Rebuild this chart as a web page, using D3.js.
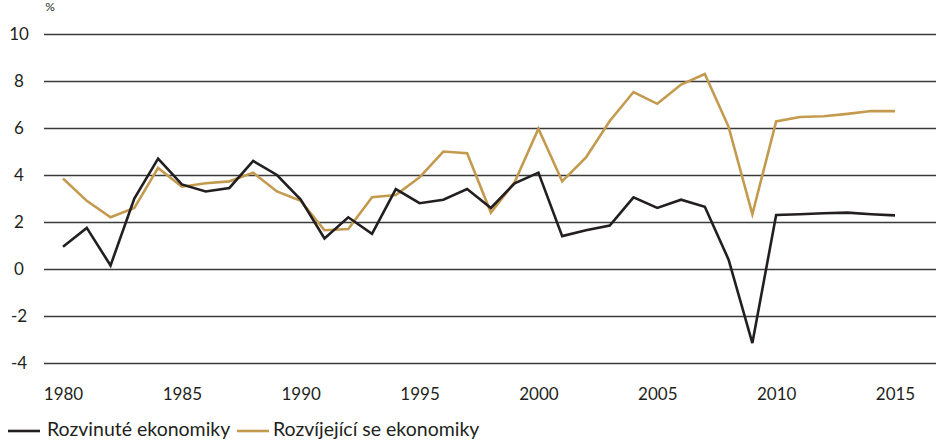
<!DOCTYPE html>
<html>
<head>
<meta charset="utf-8">
<script src="https://cdn.jsdelivr.net/npm/d3@7"></script>
<style>
  body { margin: 0; background: #fff; }
  text { font-family: Lato, "Open Sans", sans-serif; fill: #231f20; }
</style>
</head>
<body>
<script>
var w = 950;
var h = 440;

var years = d3.range(1980, 2016);

var developed = [0.95, 1.75, 0.15, 3.0, 4.7, 3.6, 3.3, 3.45, 4.6, 4.0, 2.95, 1.3,
                 2.2, 1.5, 3.4, 2.8, 2.95, 3.4, 2.6, 3.65, 4.1, 1.4, 1.65, 1.85,
                 3.05, 2.6, 2.95, 2.65, 0.4, -3.15, 2.3, 2.33, 2.37, 2.4, 2.33, 2.28];

var emerging = [3.85, 2.9, 2.2, 2.6, 4.3, 3.5, 3.65, 3.73, 4.1, 3.3, 2.9, 1.65,
                1.7, 3.05, 3.15, 3.9, 5.0, 4.93, 2.4, 3.7, 5.97, 3.73, 4.75, 6.3,
                7.53, 7.03, 7.85, 8.3, 6.05, 2.33, 6.28, 6.47, 6.5, 6.6, 6.72, 6.72];

var yTicks = [-4, -2, 0, 2, 4, 6, 8, 10];
var xTicks = [1980, 1985, 1990, 1995, 2000, 2005, 2010, 2015];

var seriesNames = ["Rozvinuté ekonomiky", "Rozvíjející se ekonomiky"];
var seriesColors = ["#231f20", "#c39a4e"];

var svg = d3.select("body").append("svg")
            .attr("width", w)
            .attr("height", h);

var x = d3.scaleLinear().domain([1980, 2015]).range([63, 895]);
var y = d3.scaleLinear().domain([-4, 10]).range([363, 34]);

// unit label
svg.append("text")
   .attr("x", 50)
   .attr("y", 11)
   .attr("text-anchor", "middle")
   .style("font-size", "12px")
   .text("%");

// horizontal gridlines + y labels
var yAxis = d3.axisLeft(y)
              .tickValues(yTicks)
              .tickSize(-(936 - 44))
              .tickFormat(function(d){ return String(d); });

var gy = svg.append("g")
            .attr("transform", "translate(44,0)")
            .call(yAxis);
gy.select(".domain").remove();
gy.selectAll("line").attr("stroke", "#3a3a3a").attr("stroke-width", 1.3);
gy.selectAll("text")
  .attr("x", -25)
  .attr("text-anchor", "middle")
  .style("font-size", "17px")
  .style("font-family", "Lato, sans-serif")
  .attr("fill", "#231f20");

// x labels
var xAxis = d3.axisBottom(x)
              .tickValues(xTicks)
              .tickSize(0)
              .tickPadding(0)
              .tickFormat(function(d){ return String(d); });

var gx = svg.append("g")
            .attr("transform", "translate(0,388)")
            .call(xAxis);
gx.select(".domain").remove();
gx.selectAll("text")
  .style("font-size", "17px")
  .style("font-family", "Lato, sans-serif")
  .attr("fill", "#231f20");

// lines
var line = d3.line()
             .x(function(d, i){ return x(years[i]); })
             .y(function(d){ return y(d); });

svg.append("g").selectAll("path")
   .data([emerging, developed])
   .enter()
   .append("path")
   .attr("d", line)
   .attr("fill", "none")
   .attr("stroke", function(d){ return d === developed ? seriesColors[0] : seriesColors[1]; })
   .attr("stroke-width", 2.6)
   .attr("stroke-linejoin", "miter");

// legend
var legendX = [8, 237];
var legend = svg.append("g").selectAll("g")
                .data(seriesNames)
                .enter()
                .append("g")
                .attr("transform", function(d, i){ return "translate(" + legendX[i] + ",431)"; });

legend.append("line")
      .attr("x1", 0).attr("x2", 32)
      .attr("y1", 0).attr("y2", 0)
      .attr("stroke", function(d, i){ return seriesColors[i]; })
      .attr("stroke-width", 2.6);

legend.append("text")
      .attr("x", function(d, i){ return i === 0 ? 39 : 36; })
      .attr("y", 5)
      .style("font-size", "19.5px")
      .text(function(d){ return d; });
</script>
</body>
</html>
